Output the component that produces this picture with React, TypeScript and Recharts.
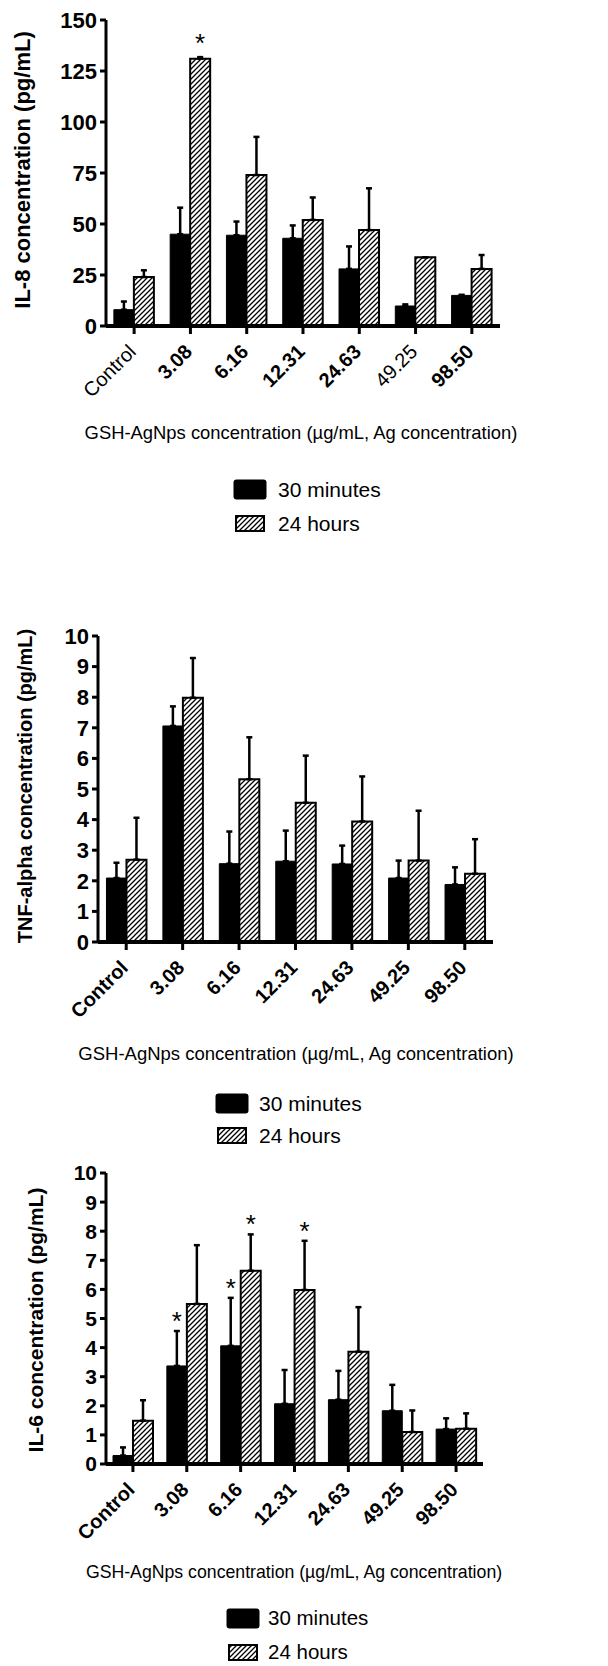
import React from "react";
import {
  BarChart,
  Bar,
  XAxis,
  YAxis,
  ErrorBar,
  LabelList,
  Legend,
  Label,
} from "recharts";

const FONT = '"Liberation Sans", Arial, Helvetica, sans-serif';
const X_TITLE = "GSH-AgNps concentration (µg/mL, Ag concentration)";

// categories (x axis)
const concentrations = ["Control", "3.08", "6.16", "12.31", "24.63", "49.25", "98.50"];

// IL-8 (pg/mL)
const il8Min30 = [8, 45, 44.5, 43, 28, 9.8, 15];
const il8Min30Err = [4, 13, 6.7, 6.3, 11, 0.8, 0.3];
const il8Hr24 = [24, 131, 74, 52, 47, 33.7, 28];
const il8Hr24Err = [3.3, 0.8, 18.7, 11, 20.5, 0, 6.8];
const il8Star30 = [false, false, false, false, false, false, false];
const il8Star24 = [false, true, false, false, false, false, false];
const il8Ticks = [0, 25, 50, 75, 100, 125, 150];

// TNF-alpha (pg/mL)
const tnfMin30 = [2.09, 7.06, 2.56, 2.64, 2.55, 2.09, 1.88];
const tnfMin30Err = [0.5, 0.64, 1.05, 1.0, 0.6, 0.57, 0.56];
const tnfHr24 = [2.69, 7.98, 5.32, 4.55, 3.94, 2.66, 2.23];
const tnfHr24Err = [1.37, 1.3, 1.37, 1.54, 1.47, 1.63, 1.13];
const tnfStar30 = [false, false, false, false, false, false, false];
const tnfStar24 = [false, false, false, false, false, false, false];
const tnfTicks = [0, 1, 2, 3, 4, 5, 6, 7, 8, 9, 10];

// IL-6 (pg/mL)
const il6Min30 = [0.29, 3.37, 4.06, 2.07, 2.21, 1.83, 1.2];
const il6Min30Err = [0.28, 1.2, 1.65, 1.16, 0.99, 0.89, 0.37];
const il6Hr24 = [1.49, 5.5, 6.64, 5.98, 3.86, 1.1, 1.21];
const il6Hr24Err = [0.7, 2.02, 1.25, 1.69, 1.53, 0.74, 0.53];
const il6Star30 = [false, true, true, false, false, false, false];
const il6Star24 = [false, false, true, true, false, false, false];
const il6Ticks = [0, 1, 2, 3, 4, 5, 6, 7, 8, 9, 10];

type Panel = {
  id: string;
  top: number;
  height: number;
  marginTop: number;
  yAxisWidth: number;
  marginRight: number;
  plotHeight: number;
  yMax: number;
  yTicks: number[];
  yTickSize: number;
  yTitle: string;
  yTitleX: number;
  yTitleY: number;
  yTitleSize: number;
  xTitleX: number;
  xTitleY: number;
  xTitleSize: number;
  xTickSize: number;
  regularTicks: string[];
  gap: string;
  starGap: number;
  legendY: number;
  legendGap: number;
  swatchX: number;
  legendTextX: number;
  legendSize: number;
  min30: number[];
  min30Err: number[];
  hr24: number[];
  hr24Err: number[];
  star30: boolean[];
  star24: boolean[];
};

const panels: Panel[] = [
  {
    id: "il8", top: 0, height: 545, marginTop: 20, yAxisWidth: 106, marginRight: 108, plotHeight: 306,
    yMax: 150, yTicks: il8Ticks, yTickSize: 22,
    yTitle: "IL-8 concentration (pg/mL)", yTitleX: 22, yTitleY: 170, yTitleSize: 22,
    xTitleX: 301, xTitleY: 432, xTitleSize: 18.4, xTickSize: 20, regularTicks: ["Control", "49.25"],
    gap: "14%", starGap: 20,
    legendY: 489, legendGap: 34, swatchX: 233, legendTextX: 278, legendSize: 21,
    min30: il8Min30, min30Err: il8Min30Err, hr24: il8Hr24, hr24Err: il8Hr24Err, star30: il8Star30, star24: il8Star24,
  },
  {
    id: "tnf", top: 600, height: 550, marginTop: 36, yAxisWidth: 98, marginRight: 115, plotHeight: 306,
    yMax: 10, yTicks: tnfTicks, yTickSize: 22,
    yTitle: "TNF-alpha concentration (pg/mL)", yTitleX: 25, yTitleY: 186, yTitleSize: 20,
    xTitleX: 296, xTitleY: 453, xTitleSize: 18.5, xTickSize: 20, regularTicks: [],
    gap: "15%", starGap: 16,
    legendY: 503, legendGap: 32, swatchX: 215, legendTextX: 259, legendSize: 21,
    min30: tnfMin30, min30Err: tnfMin30Err, hr24: tnfHr24, hr24Err: tnfHr24Err, star30: tnfStar30, star24: tnfStar24,
  },
  {
    id: "il6", top: 1150, height: 516, marginTop: 23, yAxisWidth: 106, marginRight: 125, plotHeight: 291,
    yMax: 10, yTicks: il6Ticks, yTickSize: 21,
    yTitle: "IL-6 concentration (pg/mL)", yTitleX: 35, yTitleY: 170, yTitleSize: 21,
    xTitleX: 294, xTitleY: 422, xTitleSize: 17.7, xTickSize: 20, regularTicks: [],
    gap: "13%", starGap: 16,
    legendY: 468, legendGap: 34, swatchX: 226, legendTextX: 268, legendSize: 20.5,
    min30: il6Min30, min30Err: il6Min30Err, hr24: il6Hr24, hr24Err: il6Hr24Err, star30: il6Star30, star24: il6Star24,
  },
];

// asterisk drawn above the error bar of a starred bar
const starLabel = (vals: number[], errs: number[], stars: boolean[], gap: number) => (props: any) => {
  const index = props.index;
  if (index == null || !stars[index]) return null;
  const vb = props.viewBox ?? props;
  const { x, y, width, height } = vb;
  const pxPerUnit = height / vals[index];
  const errTop = y - errs[index] * pxPerUnit;
  return (
    <text x={x + width / 2} y={errTop - gap + 15} textAnchor="middle" fontSize={26} fontFamily={FONT} fill="#000">
      *
    </text>
  );
};

const XTick = (props: any) => {
  const { x, y, payload, regular, size } = props;
  return (
    <g transform={`translate(${x + 3},${y + 17})`}>
      <text
        textAnchor="end"
        transform="rotate(-45)"
        fontSize={size}
        fontFamily={FONT}
        fontWeight={regular.includes(payload.value) ? "normal" : "bold"}
        fill="#000"
      >
        {payload.value}
      </text>
    </g>
  );
};

const LegendBox = ({ p }: { p: Panel }) => (
  <div style={{ position: "relative", width: 608, height: 70, fontFamily: FONT, fontSize: p.legendSize, color: "#000" }}>
    <svg style={{ position: "absolute", left: p.swatchX, top: 0 }} width={34} height={21}>
      <rect x={0.5} y={0.5} width={33} height={20} rx={3} fill="#000" />
    </svg>
    <div style={{ position: "absolute", left: p.legendTextX, top: 10 - p.legendSize / 2, lineHeight: `${p.legendSize}px`, whiteSpace: "nowrap" }}>
      30 minutes
    </div>
    <svg style={{ position: "absolute", left: p.swatchX + 2, top: 10 + p.legendGap - 8 }} width={31} height={17}>
      <defs>
        <pattern id={`lg-${p.id}`} patternUnits="userSpaceOnUse" width={5} height={5}>
          <path d="M-1,1 l2,-2 M0,5 l5,-5 M4,6 l2,-2" stroke="#000" strokeWidth={1.3} />
        </pattern>
      </defs>
      <rect x={1} y={1} width={28} height={15} fill={`url(#lg-${p.id})`} stroke="#000" strokeWidth={2} />
    </svg>
    <div style={{ position: "absolute", left: p.legendTextX, top: 10 + p.legendGap - p.legendSize / 2, lineHeight: `${p.legendSize}px`, whiteSpace: "nowrap" }}>
      24 hours
    </div>
  </div>
);

function CytokinePanel({ p }: { p: Panel }) {
  const rows = concentrations.map((c, i) => ({
    c,
    m30: p.min30[i],
    m30Err: [0, p.min30Err[i]],
    h24: p.hr24[i],
    h24Err: [0, p.hr24Err[i]],
  }));
  const xAxisHeight = p.height - p.marginTop - p.plotHeight;
  return (
    <div style={{ position: "absolute", left: 0, top: p.top, width: 608, height: p.height }}>
      <BarChart
        width={608}
        height={p.height}
        data={rows}
        margin={{ top: p.marginTop, right: p.marginRight, left: 0, bottom: 0 }}
        barCategoryGap={p.gap}
        barGap={0}
      >
        <defs>
          <pattern id={`hatch-${p.id}`} patternUnits="userSpaceOnUse" width={5} height={5}>
            <rect width={5} height={5} fill="#fff" />
            <path d="M-1,1 l2,-2 M0,5 l5,-5 M4,6 l2,-2" stroke="#000" strokeWidth={1.3} />
          </pattern>
        </defs>
        <XAxis
          dataKey="c"
          height={xAxisHeight}
          interval={0}
          tickSize={8}
          tickMargin={2}
          axisLine={{ stroke: "#000", strokeWidth: 4 }}
          tickLine={{ stroke: "#000", strokeWidth: 3 }}
          tick={<XTick regular={p.regularTicks} size={p.xTickSize} />}
        >
          <Label
            content={() => (
              <text
                x={p.xTitleX}
                y={p.xTitleY}
                textAnchor="middle"
                dominantBaseline="central"
                fontSize={p.xTitleSize}
                fontFamily={FONT}
                fill="#000"
              >
                {X_TITLE}
              </text>
            )}
          />
        </XAxis>
        <YAxis
          width={p.yAxisWidth}
          domain={[0, p.yMax]}
          ticks={p.yTicks}
          interval={0}
          tickSize={6}
          tickMargin={3}
          axisLine={{ stroke: "#000", strokeWidth: 3 }}
          tickLine={{ stroke: "#000", strokeWidth: 3 }}
          tick={{ fill: "#000", fontSize: p.yTickSize, fontWeight: "bold", fontFamily: FONT }}
        >
          <Label
            content={() => (
              <text
                transform={`translate(${p.yTitleX},${p.yTitleY}) rotate(-90)`}
                textAnchor="middle"
                dominantBaseline="central"
                fontSize={p.yTitleSize}
                fontWeight="bold"
                fontFamily={FONT}
                fill="#000"
              >
                {p.yTitle}
              </text>
            )}
          />
        </YAxis>
        <Legend
          layout="horizontal"
          verticalAlign="middle"
          align="center"
          wrapperStyle={{ left: 0, top: p.legendY - 10, width: 608, height: 70, margin: 0, padding: 0 }}
          content={() => <LegendBox p={p} />}
        />
        <Bar dataKey="m30" name="30 minutes" fill="#000" stroke="#000" strokeWidth={1} isAnimationActive={false}>
          <ErrorBar dataKey="m30Err" direction="y" width={3} stroke="#000" strokeWidth={2.5} isAnimationActive={false} />
          <LabelList dataKey="m30" content={starLabel(p.min30, p.min30Err, p.star30, p.starGap)} />
        </Bar>
        <Bar dataKey="h24" name="24 hours" fill={`url(#hatch-${p.id})`} stroke="#000" strokeWidth={2} isAnimationActive={false}>
          <ErrorBar dataKey="h24Err" direction="y" width={3} stroke="#000" strokeWidth={2.5} isAnimationActive={false} />
          <LabelList dataKey="h24" content={starLabel(p.hr24, p.hr24Err, p.star24, p.starGap)} />
        </Bar>
      </BarChart>
    </div>
  );
}

export default function App() {
  return (
    <div style={{ position: "absolute", left: 0, top: 0, width: 608, height: 1666, background: "#fff" }}>
      {panels.map((p) => (
        <CytokinePanel key={p.id} p={p} />
      ))}
    </div>
  );
}
